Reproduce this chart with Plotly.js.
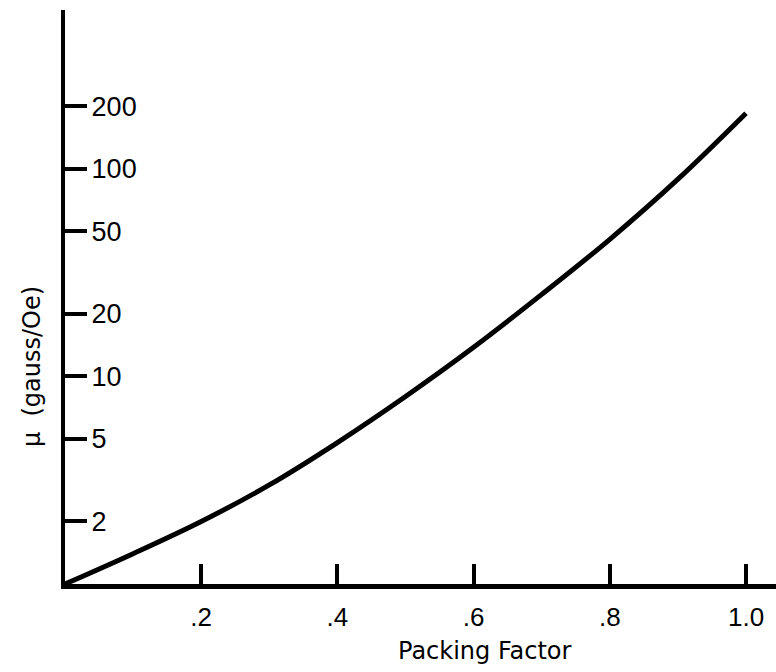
<!DOCTYPE html>
<html>
<head>
<meta charset="utf-8">
<script src="https://cdn.plot.ly/plotly-3.0.1.min.js"></script>
<style>
  html, body { margin: 0; padding: 0; background: #ffffff; }
  #chart { width: 776px; height: 672px; }
</style>
</head>
<body>
<div id="chart"></div>
<script>
// Permeability of a packed magnetic powder versus packing factor
const packingFactor = [0, 0.1, 0.2, 0.3, 0.4, 0.5, 0.6, 0.7, 0.8, 0.9, 1.0];
const permeability  = [1.0, 1.40, 2.0, 3.0, 4.8, 8.0, 13.8, 24.8, 45.7, 89, 185];

const xTickVals = [0.2, 0.4, 0.6, 0.8, 1.0];
const xTickText = ['.2', '.4', '.6', '.8', '1.0'];
const yTickVals = [2, 5, 10, 20, 50, 100, 200];
const yTickText = ['2', '5', '10', '20', '50', '100', '200'];

const trace = {
  x: packingFactor,
  y: permeability,
  type: 'scatter',
  mode: 'lines',
  line: { color: '#000000', width: 5, shape: 'spline', smoothing: 1 },
  hoverinfo: 'skip'
};

const layout = {
  width: 776,
  height: 672,
  margin: { l: 65, r: 0, t: 10, b: 88 },
  paper_bgcolor: '#ffffff',
  plot_bgcolor: '#ffffff',
  showlegend: false,
  font: { family: 'Liberation Sans, Arial, sans-serif', color: '#000000' },
  xaxis: {
    range: [0, 1.044],
    showgrid: false,
    zeroline: false,
    showline: true,
    linecolor: '#000000',
    linewidth: 4.5,
    ticks: 'inside',
    ticklen: 20,
    tickwidth: 4,
    tickcolor: '#000000',
    tickvals: xTickVals,
    ticktext: xTickText,
    tickfont: { size: 26, family: 'Liberation Sans, Arial, sans-serif', color: '#000000' },
    ticklabelstandoff: 6
  },
  yaxis: {
    type: 'log',
    range: [0, 2.764],
    showgrid: false,
    zeroline: false,
    showline: true,
    linecolor: '#000000',
    linewidth: 4.5,
    ticks: 'inside',
    ticklen: 22,
    tickwidth: 4,
    tickcolor: '#000000',
    tickvals: yTickVals,
    ticktext: yTickText,
    ticklabelposition: 'inside',
    ticklabelstandoff: 7,
    tickfont: { size: 27, family: 'Liberation Sans, Arial, sans-serif', color: '#000000' }
  },
  annotations: [
    {
      text: 'μ  (gauss/Oe)',
      xref: 'paper', yref: 'paper',
      x: -0.0464, y: 0.378,
      xanchor: 'center', yanchor: 'middle',
      textangle: -90,
      showarrow: false,
      font: { size: 24, family: 'DejaVu Sans, sans-serif', color: '#000000' }
    },
    {
      text: 'Packing Factor',
      xref: 'paper', yref: 'paper',
      x: 0.5907, y: -0.1167,
      xanchor: 'center', yanchor: 'middle',
      showarrow: false,
      font: { size: 24, family: 'DejaVu Sans, sans-serif', color: '#000000' }
    }
  ]
};

Plotly.newPlot('chart', [trace], layout, { staticPlot: true, displayModeBar: false });
</script>
</body>
</html>
